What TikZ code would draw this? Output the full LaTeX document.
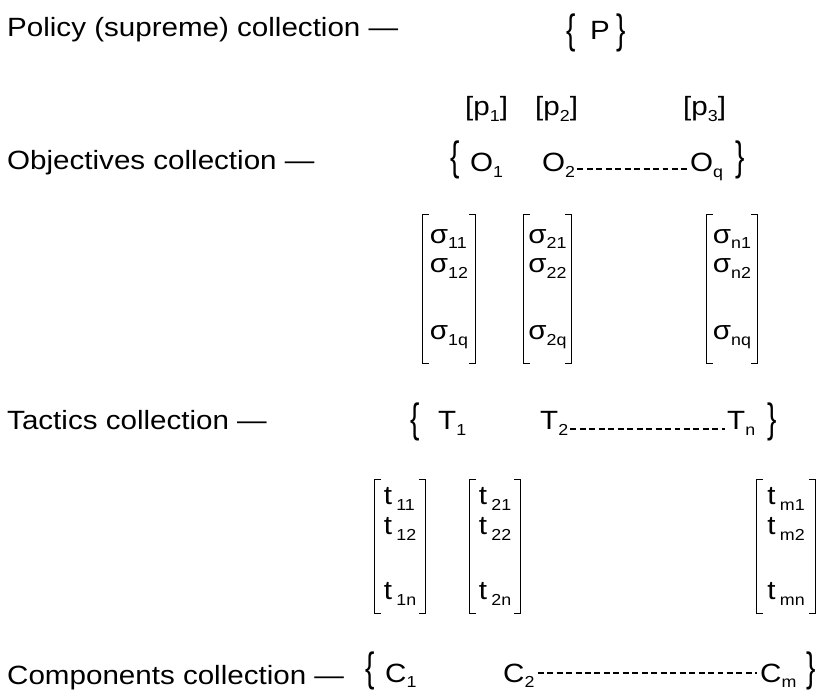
\documentclass[tikz,border=0pt]{standalone}
\usepackage{graphicx}
\usepackage{fontspec}
\setmainfont{Liberation Sans}[FakeStretch=1.12]
\newcommand{\lblfont}{\fontsize{26.5}{30}\selectfont}
\newcommand{\tallbr}[1]{\scalebox{0.95}[1.55]{#1}}
\newcommand{\ssub}[1]{\raisebox{-0.22em}{\fontsize{16}{16}\selectfont #1}}
\tikzset{
  lbl/.style={anchor=base west,inner sep=0pt,font=\lblfont},
  brc/.style={inner sep=0pt,font=\lblfont},
  colm/.style={inner sep=0pt,align=left,font=\lblfont,minimum height=#1},
  brk/.style={line width=1.1pt},
  dots/.style={line width=1.3pt,dash pattern=on 6pt off 3.5pt}
}
\begin{document}
\begin{tikzpicture}
\useasboundingbox[fill=white] (0bp,0bp) rectangle (821bp,696bp);
\node[lbl] (polcol) at (7bp,659bp) {Policy (supreme) collection —};
\node[lbl] (objcol) at (7bp,526bp) {Objectives collection —};
\node[lbl] (taccol) at (7bp,266bp) {Tactics collection —};
\node[lbl] (comcol) at (7bp,12bp) {Components collection —};

\node[brc] (pl) at (571bp,663.5bp) {\tallbr{\{}};
\node[lbl] (p) at (590bp,656bp) {P};
\node[brc] (pr) at (621bp,663.5bp) {\tallbr{\}}};

\node[lbl] (p1) at (465bp,580bp) {[p\ssub{1}]};
\node[lbl] (p2) at (535bp,580bp) {[p\ssub{2}]};
\node[lbl] (p3) at (683bp,580bp) {[p\ssub{3}]};

\node[brc] (ol) at (455bp,536bp) {\tallbr{\{}};
\node[lbl] (o1) at (470bp,524bp) {O\ssub{1}};
\node[lbl] (o2) at (542bp,524bp) {O\ssub{2}};
\node[lbl] (oq) at (690bp,524bp) {O\ssub{q}};
\node[brc] (or) at (740bp,536bp) {\tallbr{\}}};
\draw[dots] ([xshift=2bp,yshift=3bp]o2.base east) -- ([xshift=-2bp,yshift=3bp]oq.base west);

\node[colm=148bp,minimum width=52bp] (s1) at (449bp,407bp) {σ\ssub{11}\\ σ\ssub{12}\\[37pt] σ\ssub{1q}};
\node[colm=148bp,minimum width=47bp] (s2) at (547.5bp,407bp) {σ\ssub{21}\\ σ\ssub{22}\\[37pt] σ\ssub{2q}};
\node[colm=148bp,minimum width=50bp] (s3) at (732bp,407bp) {σ\ssub{n1}\\ σ\ssub{n2}\\[37pt] σ\ssub{nq}};

\node[brc] (tl) at (415bp,274bp) {\tallbr{\{}};
\node[lbl] (t1) at (438bp,266bp) {T\ssub{1}};
\node[lbl] (t2) at (540bp,266bp) {T\ssub{2}};
\node[lbl] (tn) at (727bp,266bp) {T\ssub{n}};
\node[brc] (tr) at (772bp,274bp) {\tallbr{\}}};
\draw[dots] ([xshift=2bp,yshift=1bp]t2.base east) -- ([xshift=-2bp,yshift=1bp]tn.base west);

\node[colm=133bp,minimum width=50bp] (m1) at (400bp,149.5bp) {t\,\ssub{11}\\ t\,\ssub{12}\\[35pt] t\,\ssub{1n}};
\node[colm=133bp,minimum width=50bp] (m2) at (495bp,149.5bp) {t\,\ssub{21}\\ t\,\ssub{22}\\[35pt] t\,\ssub{2n}};
\node[colm=133bp,minimum width=58bp] (m3) at (786bp,149.5bp) {t\,\ssub{m1}\\ t\,\ssub{m2}\\[35pt] t\,\ssub{mn}};

\foreach \m in {s1,s2,s3,m1,m2,m3}{
  \draw[brk] ([xshift=6bp]\m.north west) -- (\m.north west) -- (\m.south west) -- ([xshift=6bp]\m.south west);
  \draw[brk] ([xshift=-6bp]\m.north east) -- (\m.north east) -- (\m.south east) -- ([xshift=-6bp]\m.south east);
}

\node[brc] (cl) at (370bp,25bp) {\tallbr{\{}};
\node[lbl] (c1) at (385bp,14bp) {C\ssub{1}};
\node[lbl] (c2) at (503bp,14bp) {C\ssub{2}};
\node[lbl] (cm) at (760bp,14bp) {C\ssub{m}};
\node[brc] (cr) at (811bp,25bp) {\tallbr{\}}};
\draw[dots] ([xshift=3bp,yshift=9bp]c2.base east) -- ([xshift=-3bp,yshift=9bp]cm.base west);
\end{tikzpicture}
\end{document}
